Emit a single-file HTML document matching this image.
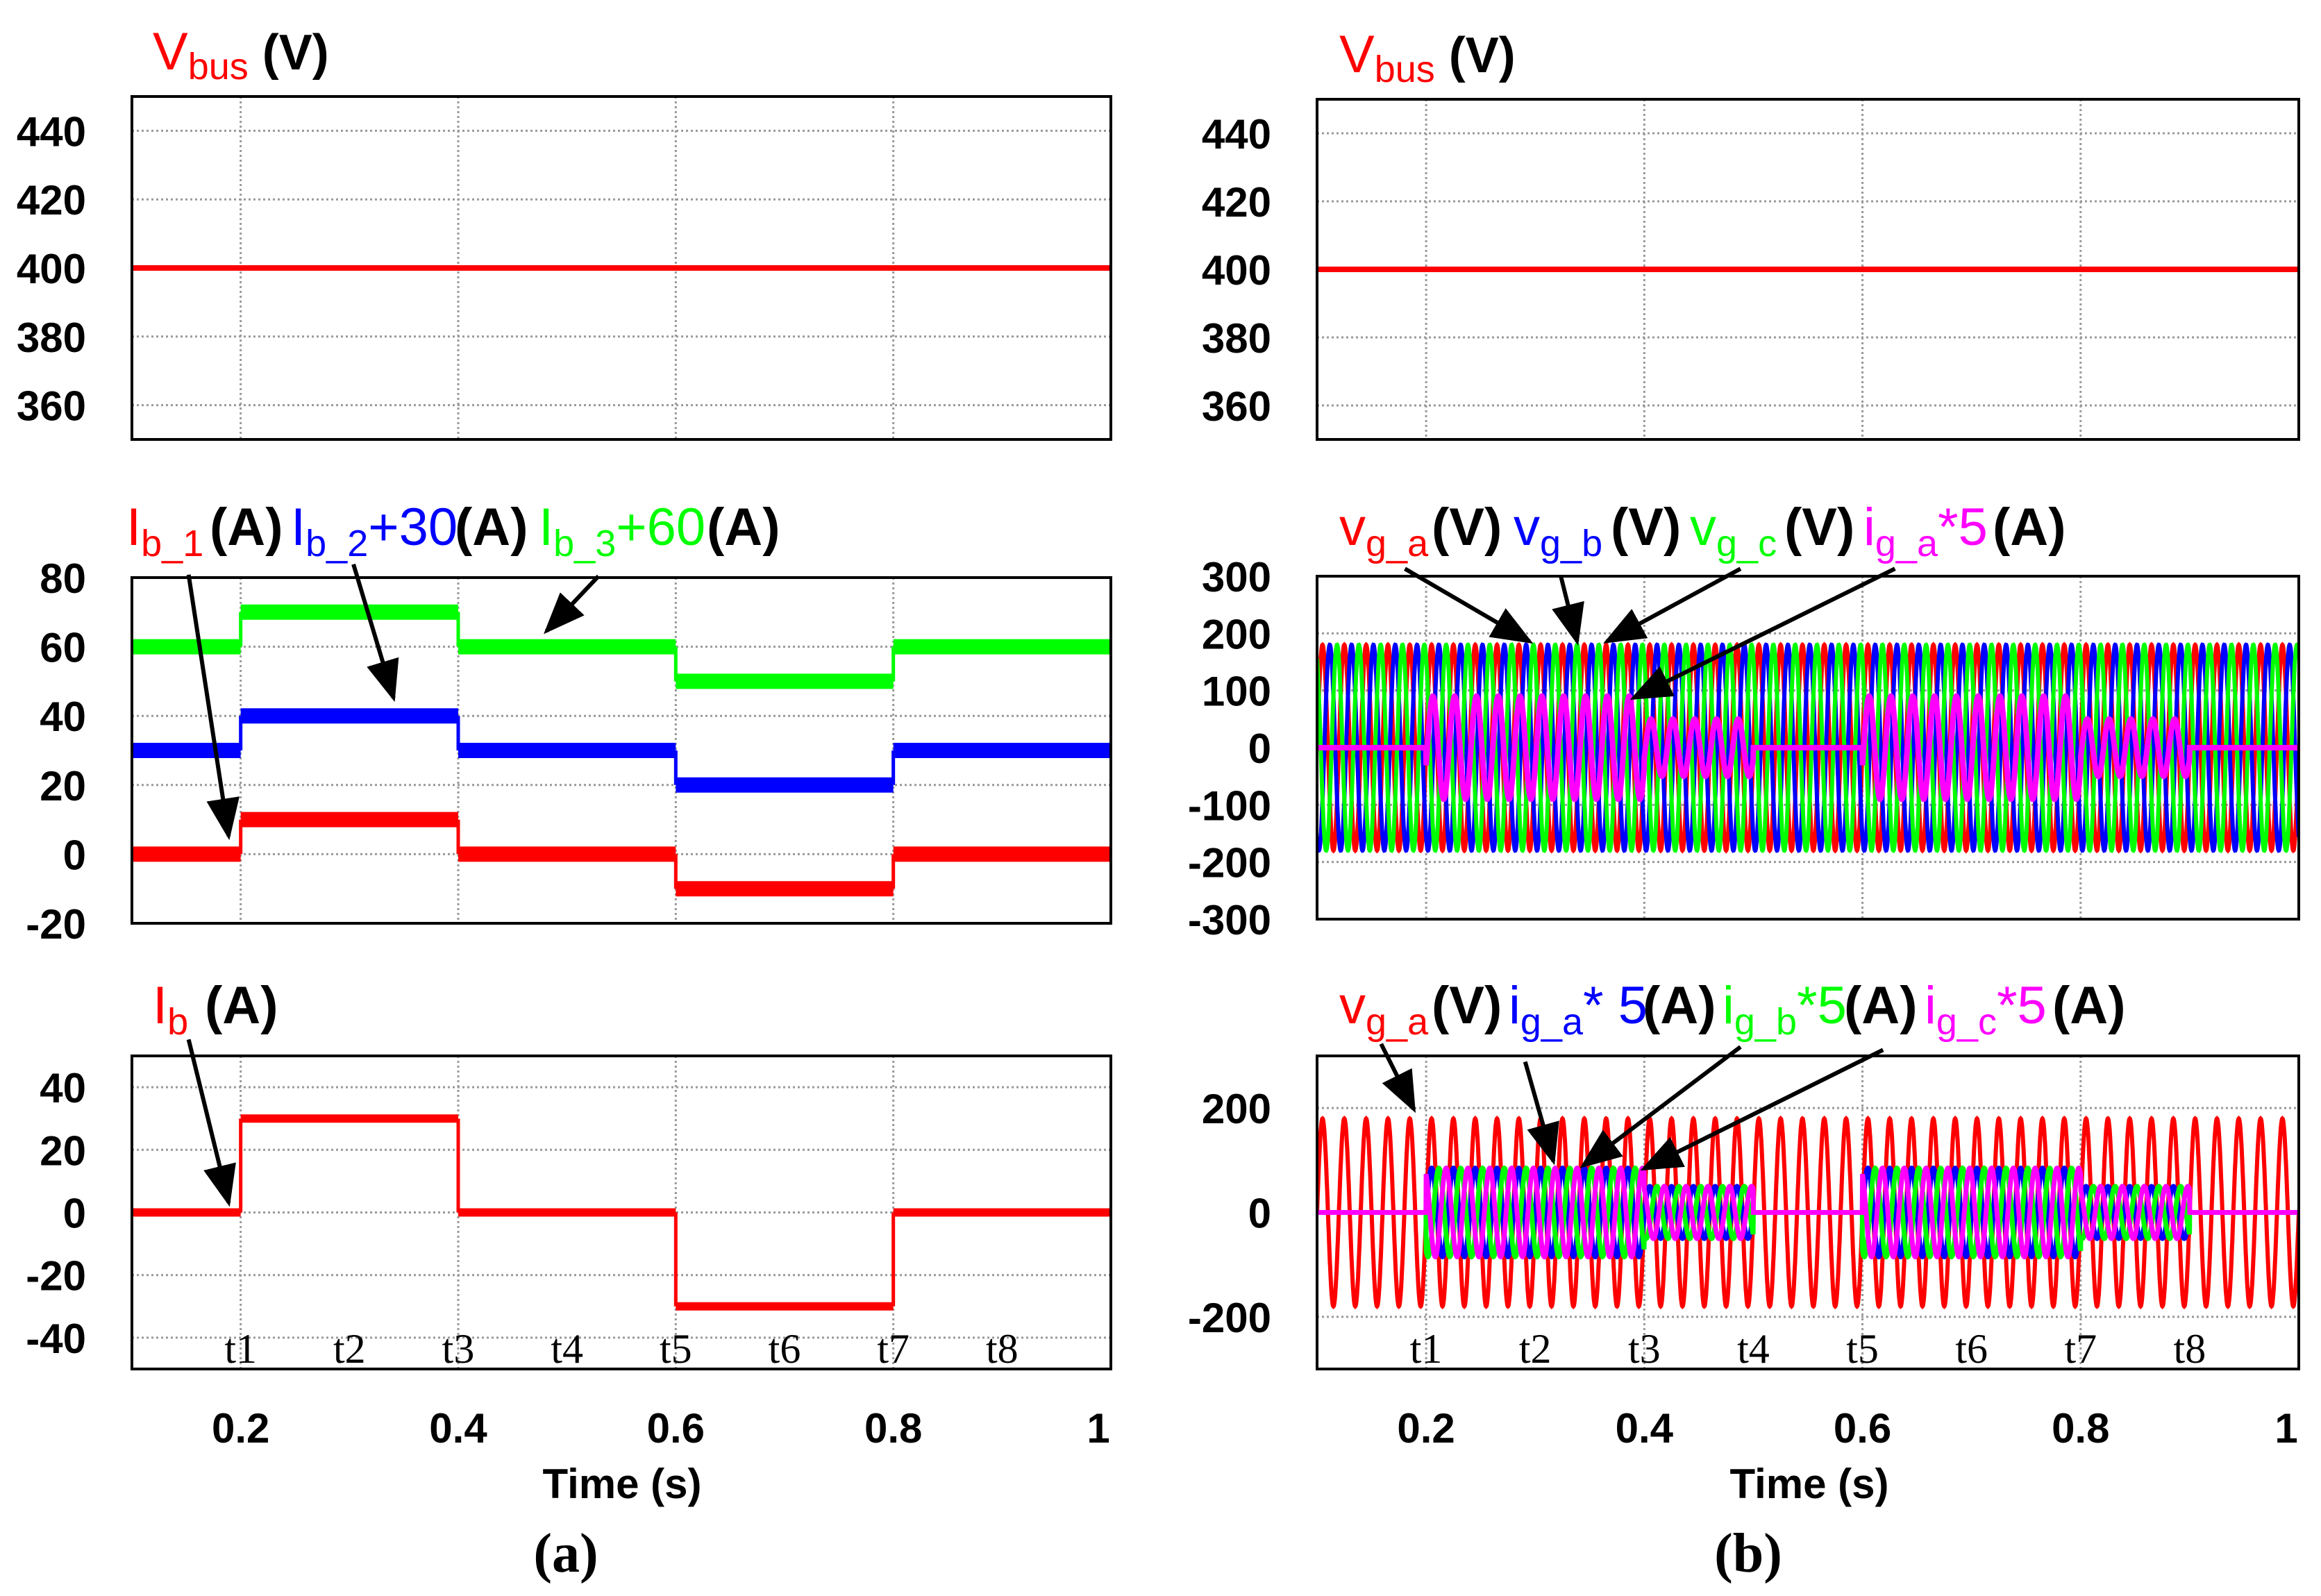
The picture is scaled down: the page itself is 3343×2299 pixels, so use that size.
<!DOCTYPE html>
<html><head><meta charset="utf-8"><style>
html,body{margin:0;padding:0;background:#fff}
svg{display:block}
text{font-family:"Liberation Sans",sans-serif}
.tk{font-size:60px;font-weight:bold;fill:#000}
.lb{font-size:76px}
.sb{font-size:54px}
.blk{fill:#000;font-weight:bold}
.ser{font-family:"Liberation Serif",serif}
</style></head><body>
<svg id="fig" width="3343" height="2299" viewBox="0 0 3343 2299" xmlns="http://www.w3.org/2000/svg">
<defs><marker id="ah" markerWidth="10" markerHeight="8" refX="9" refY="4" orient="auto" markerUnits="strokeWidth"><path d="M0,0 L10,4 L0,8 z" fill="#000"/></marker></defs>
<g id="g"></g>
<!-- titles -->
<text x="220" y="100" class="lb" font-size="86"><tspan fill="#f00">V</tspan><tspan fill="#f00" class="sb" dy="14">bus</tspan><tspan class="blk" dy="-14" font-size="72"> (V)</tspan></text>
<text x="1929" y="104" class="lb" font-size="86"><tspan fill="#f00">V</tspan><tspan fill="#f00" class="sb" dy="14">bus</tspan><tspan class="blk" dy="-14" font-size="72"> (V)</tspan></text>

<text x="182" y="785" class="lb"><tspan fill="#f00">I</tspan><tspan fill="#f00" class="sb" dy="16">b_1</tspan></text>
<text x="302" y="785" class="lb blk" font-size="60">(A)</text>
<text x="419" y="785" class="lb"><tspan fill="#00f">I</tspan><tspan fill="#00f" class="sb" dy="16">b_2</tspan><tspan fill="#00f" dy="-16">+30</tspan></text>
<text x="655" y="785" class="lb blk" font-size="60">(A)</text>
<text x="776" y="785" class="lb"><tspan fill="#0f0">I</tspan><tspan fill="#0f0" class="sb" dy="16">b_3</tspan><tspan fill="#0f0" dy="-16">+60</tspan></text>
<text x="1018" y="785" class="lb blk" font-size="60">(A)</text>

<text x="220" y="1474" class="lb"><tspan fill="#f00">I</tspan><tspan fill="#f00" class="sb" dy="16">b</tspan></text>
<text x="295" y="1474" class="lb blk" font-size="60">(A)</text>

<text x="1929" y="785" class="lb"><tspan fill="#f00">v</tspan><tspan fill="#f00" class="sb" dy="16">g_a</tspan></text>
<text x="2062" y="785" class="lb blk" font-size="60">(V)</text>
<text x="2180" y="785" class="lb"><tspan fill="#00f">v</tspan><tspan fill="#00f" class="sb" dy="16">g_b</tspan></text>
<text x="2320" y="785" class="lb blk" font-size="60">(V)</text>
<text x="2434" y="785" class="lb"><tspan fill="#0f0">v</tspan><tspan fill="#0f0" class="sb" dy="16">g_c</tspan></text>
<text x="2570" y="785" class="lb blk" font-size="60">(V)</text>
<text x="2684" y="785" class="lb"><tspan fill="#f0f">i</tspan><tspan fill="#f0f" class="sb" dy="16">g_a</tspan><tspan fill="#f0f" dy="-16">*5</tspan></text>
<text x="2870" y="785" class="lb blk" font-size="60">(A)</text>

<text x="1929" y="1474" class="lb"><tspan fill="#f00">v</tspan><tspan fill="#f00" class="sb" dy="16">g_a</tspan></text>
<text x="2062" y="1474" class="lb blk" font-size="60">(V)</text>
<text x="2173" y="1474" class="lb"><tspan fill="#00f">i</tspan><tspan fill="#00f" class="sb" dy="16">g_a</tspan><tspan fill="#00f" dy="-16">* 5</tspan></text>
<text x="2366" y="1474" class="lb blk" font-size="60">(A)</text>
<text x="2481" y="1474" class="lb"><tspan fill="#0f0">i</tspan><tspan fill="#0f0" class="sb" dy="16">g_b</tspan><tspan fill="#0f0" dy="-16">*5</tspan></text>
<text x="2656" y="1474" class="lb blk" font-size="60">(A)</text>
<text x="2772" y="1474" class="lb"><tspan fill="#f0f">i</tspan><tspan fill="#f0f" class="sb" dy="16">g_c</tspan><tspan fill="#f0f" dy="-16">*5</tspan></text>
<text x="2956" y="1474" class="lb blk" font-size="60">(A)</text>

<text x="896" y="2158" class="tk" text-anchor="middle" font-size="64">Time (s)</text>
<text x="2606" y="2158" class="tk" text-anchor="middle" font-size="64">Time (s)</text>
<text x="815" y="2264" class="ser" font-size="80" font-weight="bold" text-anchor="middle">(a)</text>
<text x="2518" y="2264" class="ser" font-size="80" font-weight="bold" text-anchor="middle">(b)</text>
</svg>
<script>
// ---- data ----
const xTicks = [0.2, 0.4, 0.6, 0.8, 1];
const xTickLabels = ['0.2', '0.4', '0.6', '0.8', '1'];
const tMarkTimes = [0.2, 0.3, 0.4, 0.5, 0.6, 0.7, 0.8, 0.9];
const tMarkLabels = ['t1','t2','t3','t4','t5','t6','t7','t8'];
const vbusTicks = [440, 420, 400, 380, 360];
const vbusValue = [400];
const ibTicksA2 = [80, 60, 40, 20, 0, -20];
const ibTicksA3 = [40, 20, 0, -20, -40];
const gridTicksB2 = [300, 200, 100, 0, -100, -200, -300];
const gridTicksB3 = [200, 0, -200];
const segStarts = [0.1, 0.2, 0.4, 0.6, 0.8];
const segEnds   = [0.2, 0.4, 0.6, 0.8, 1.0];
const ib1Values = [0, 10, 0, -10, 0];
const ib2Values = [30, 40, 30, 20, 30];
const ib3Values = [60, 70, 60, 50, 60];
const ibValues  = [0, 30, 0, -30, 0];
const gridAmpStarts = [0.1, 0.2, 0.4, 0.5, 0.6, 0.8, 0.9];
const gridAmpEnds   = [0.2, 0.4, 0.5, 0.6, 0.8, 0.9, 1.0];
const igaAmpB2 = [0, 90, 50, 0, 90, 50, 0];
const igAmpB3  = [0, 85, 50, 0, 85, 50, 0];
const vgAmplitude = [180];
const gridFreqHz = [50];
const phaseDeg = [0, -120, 120];

// ---- layout ----
const NS = 'http://www.w3.org/2000/svg';
const G = document.getElementById('g');
const panels = {
  a1:{x0:190,x1:1600,y0:139,y1:633,v0:350,v1:450},
  a2:{x0:190,x1:1600,y0:832,y1:1330,v0:-20,v1:80},
  a3:{x0:190,x1:1600,y0:1521,y1:1972,v0:-50,v1:50},
  b1:{x0:1897,x1:3311,y0:143,y1:633,v0:350,v1:450},
  b2:{x0:1897,x1:3311,y0:830,y1:1324,v0:-300,v1:300},
  b3:{x0:1897,x1:3311,y0:1521,y1:1972,v0:-300,v1:300}
};
function X(p,t){return p.x0+(t-0.1)/0.9*(p.x1-p.x0);}
function Y(p,v){return p.y1-(v-p.v0)/(p.v1-p.v0)*(p.y1-p.y0);}
function el(tag,attrs,parent){const e=document.createElementNS(NS,tag);for(const k in attrs)e.setAttribute(k,attrs[k]);(parent||G).appendChild(e);return e;}

function frame(key,yticks,labels){
  const p=panels[key];
  const grp=el('g',{});
  
  
  const clip=el('clipPath',{id:'c'+key},grp);
  el('rect',{x:p.x0,y:p.y0,width:p.x1-p.x0,height:p.y1-p.y0},clip);
  xTicks.forEach(t=>{const l=el('line',{x1:X(p,t),x2:X(p,t),y1:p.y0,y2:p.y1,stroke:'#999','stroke-width':3,'stroke-dasharray':'3,4'},grp);
    
    });
  yticks.forEach(v=>{const l=el('line',{x1:p.x0,x2:p.x1,y1:Y(p,v),y2:Y(p,v),stroke:'#999','stroke-width':3,'stroke-dasharray':'3,4'},grp);
    
    
    if(labels){const tx=el('text',{x:p.x0-66,y:Y(p,v)+22,'class':'tk','text-anchor':'end'},grp);tx.textContent=String(v);
      
      }});
  const data=el('g',{'clip-path':'url(#c'+key+')'},grp);
  
  
  p.data=data;p.grp=grp;
  return p;
}
function border(p){const r=el('rect',{x:p.x0,y:p.y0,width:p.x1-p.x0,height:p.y1-p.y0,fill:'none',stroke:'#000','stroke-width':4},p.grp);
  
  }
function steps(p,vals,color,w,name){
  const grp=el('g',{},p.data);
  
  
  vals.forEach((v,i)=>{const xa=X(p,segStarts[i]),xb=X(p,segEnds[i]),y=Y(p,v);
    el('line',{x1:xa,x2:xb,y1:y,y2:y,stroke:color,'stroke-width':w},grp);
    if(i>0){const yp=Y(p,vals[i-1]);el('line',{x1:xa,x2:xa,y1:yp,y2:y,stroke:color,'stroke-width':5},grp);}
  });
}
function ampAt(arr,t){for(let i=0;i<arr.length;i++)if(t>=gridAmpStarts[i]&&t<gridAmpEnds[i])return arr[i];return arr[arr.length-1];}
function wave(p,ampFn,ph,color,w,name){
  const N=4500;let d='';
  for(let i=0;i<=N;i++){const t=0.1+0.9*i/N;const v=ampFn(t)*Math.sin(2*Math.PI*gridFreqHz[0]*t+ph*Math.PI/180);
    d+=(i?'L':'M')+X(p,t).toFixed(1)+','+Y(p,v).toFixed(1);}
  const path=el('path',{d:d,fill:'none',stroke:color,'stroke-width':w},p.data);
  
  
}
function arrow(x1,y1,x2,y2){const a=el('line',{x1:x1,y1:y1,x2:x2,y2:y2,stroke:'#000','stroke-width':6,'marker-end':'url(#ah)'});
  
  }

// panel a1
let p=frame('a1',vbusTicks,true);
let l=el('line',{x1:p.x0,x2:p.x1,y1:Y(p,vbusValue[0]),y2:Y(p,vbusValue[0]),stroke:'#f00','stroke-width':8},p.data);


border(p);
// panel a2
p=frame('a2',ibTicksA2,true);
steps(p,ib3Values,'#0f0',22,'ib3-series');
steps(p,ib2Values,'#00f',22,'ib2-series');
steps(p,ib1Values,'#f00',22,'ib1-series');
border(p);
// panel a3
p=frame('a3',ibTicksA3,true);
steps(p,ibValues,'#f00',12,'ib-series');
border(p);
// panel b1
p=frame('b1',vbusTicks,true);
l=el('line',{x1:p.x0,x2:p.x1,y1:Y(p,vbusValue[0]),y2:Y(p,vbusValue[0]),stroke:'#f00','stroke-width':8},p.data);


border(p);
// panel b2
p=frame('b2',gridTicksB2,true);
wave(p,()=>vgAmplitude[0],phaseDeg[0],'#f00',6,'vga-series');
wave(p,()=>vgAmplitude[0],phaseDeg[1],'#00f',6,'vgb-series');
wave(p,()=>vgAmplitude[0],phaseDeg[2],'#0f0',6,'vgc-series');
wave(p,t=>ampAt(igaAmpB2,t),-20,'#f0f',8,'iga5-series');
border(p);
// panel b3
p=frame('b3',gridTicksB3,false);
gridTicksB3.forEach(v=>{const tx=el('text',{x:p.x0-66,y:Y(p,v)+22,'class':'tk','text-anchor':'end'},p.grp);tx.textContent=String(v);
  
  });
wave(p,()=>vgAmplitude[0],phaseDeg[0],'#f00',6,'vga-series-2');
wave(p,t=>ampAt(igAmpB3,t),phaseDeg[0],'#00f',7,'iga-series-2');
wave(p,t=>ampAt(igAmpB3,t),phaseDeg[1],'#0f0',7,'igb-series');
wave(p,t=>ampAt(igAmpB3,t),phaseDeg[2],'#f0f',7,'igc-series');
border(p);

// x tick labels & t marks
['a3','b3'].forEach(k=>{const q=panels[k];
  xTicks.forEach((t,i)=>{const tx=el('text',{x:X(q,t)-(t===1?18:0),y:2078,'class':'tk','text-anchor':'middle'});tx.textContent=xTickLabels[i];
    
    });
  tMarkTimes.forEach((t,i)=>{const tx=el('text',{x:X(q,t),y:1963,'class':'ser','font-size':60,'text-anchor':'middle'});tx.textContent=tMarkLabels[i];
    
    });
});

// arrows
const k=2.139;
[[127,387,154,563],[238,380,265,470],[403,388,368,425],[127,700,154,810],
 [946,383,1030,432],[1051,388,1062,432],[1172,383,1082,432],[1276,383,1100,470],
 [930,703,952,747],[1027,715,1046,782],[1172,705,1066,785],[1268,707,1107,787]]
 .forEach(a=>arrow(a[0]*k,a[1]*k,a[2]*k,a[3]*k));
</script>
</body></html>
